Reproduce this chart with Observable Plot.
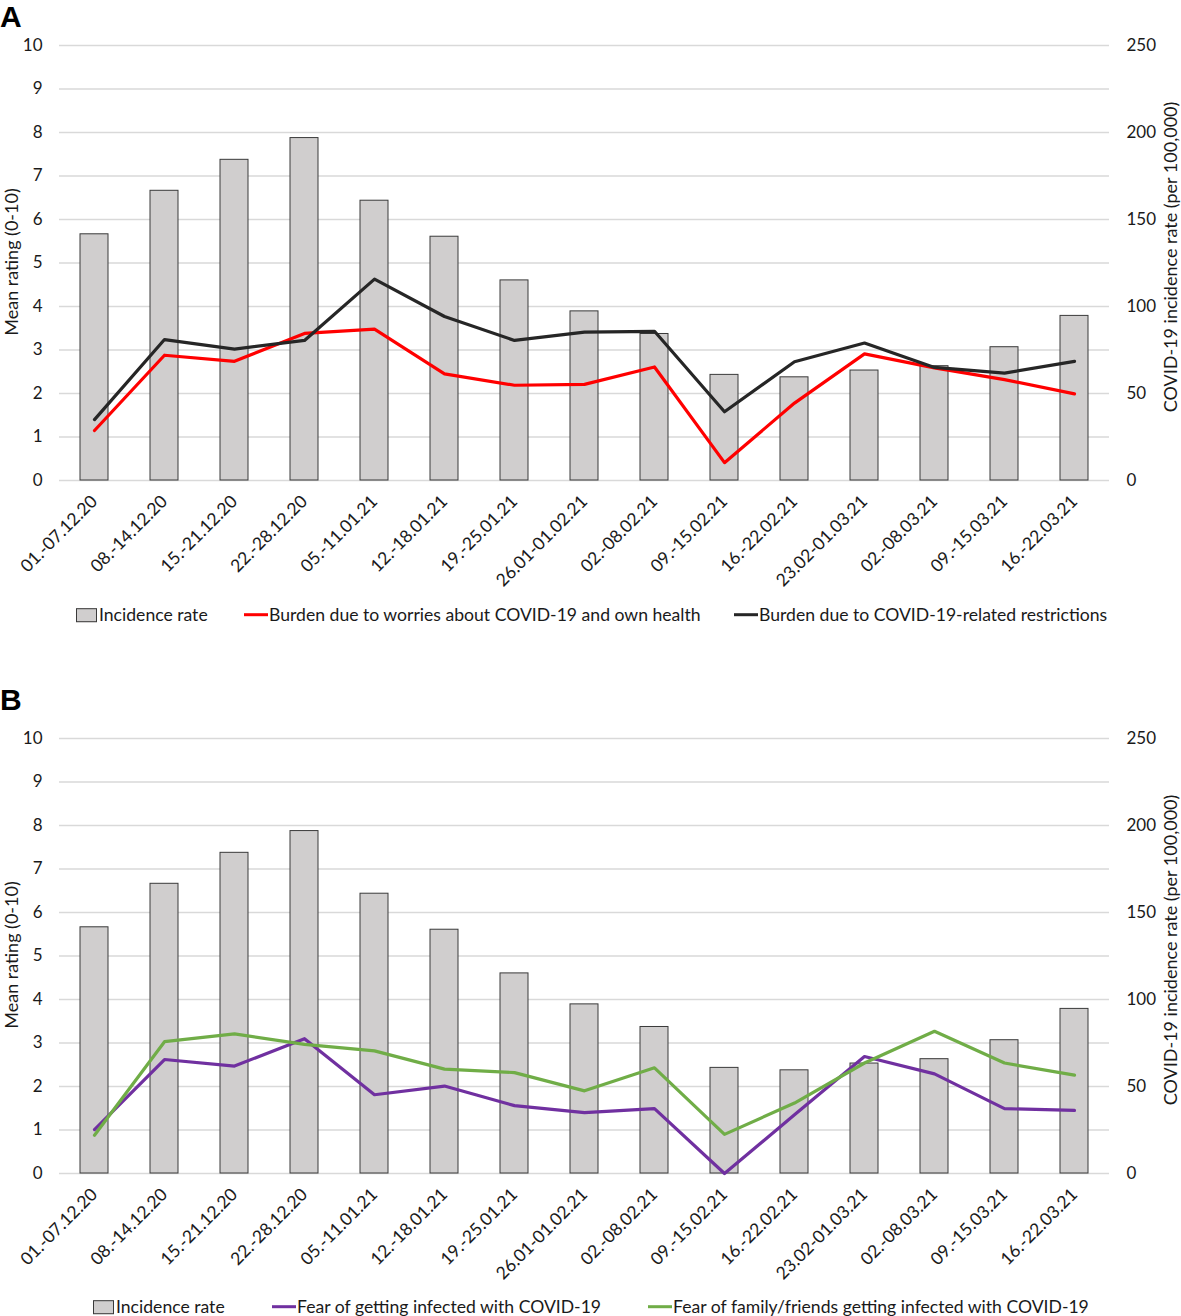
<!DOCTYPE html>
<html>
<head>
<meta charset="utf-8">
<script src="https://cdn.jsdelivr.net/npm/d3@7"></script>
<script src="https://cdn.jsdelivr.net/npm/@observablehq/plot@0.6"></script>
<style>
  body { margin: 0; background: #fff; font-family: Lato, "Open Sans", sans-serif; color: #1a1a1a; }
  #root { position: relative; width: 1181px; height: 1316px; overflow: hidden; background: #fff; }
  .panel { position: absolute; left: 0; width: 1181px; }
  .letter { position: absolute; left: 0; font: bold 30px "Liberation Sans", Arial, sans-serif; line-height: normal; color: #000; }
  .ytitle { position: absolute; font-size: 18px; white-space: nowrap; transform: translate(-50%, -50%) rotate(-90deg); line-height: 1; }
  .leg { position: absolute; display: flex; align-items: center; font-size: 17.6px; white-space: nowrap; line-height: 1; transform: translateY(-50%); }
  .sw { display: inline-block; width: 19px; height: 12px; background: #d0cece; border: 1px solid #3a3a3a; margin-right: 2px; }
  .ln { display: inline-block; width: 24px; height: 3px; margin-right: 1px; }
</style>
</head>
<body>
<div id="root"></div>
<script>
// ---- data ----
const weeks = ["01.-07.12.20","08.-14.12.20","15.-21.12.20","22.-28.12.20","05.-11.01.21","12.-18.01.21","19.-25.01.21","26.01-01.02.21","02.-08.02.21","09.-15.02.21","16.-22.02.21","23.02-01.03.21","02.-08.03.21","09.-15.03.21","16.-22.03.21"];
const incidence = [141.5, 166.5, 184.3, 196.8, 160.8, 140.1, 115.0, 97.2, 84.2, 60.7, 59.3, 63.2, 65.7, 76.6, 94.6];
const burdenWorries = [1.15, 2.88, 2.74, 3.38, 3.48, 2.45, 2.19, 2.21, 2.61, 0.41, 1.78, 2.91, 2.59, 2.32, 1.99];
const burdenRestrictions = [1.40, 3.24, 3.02, 3.22, 4.63, 3.77, 3.22, 3.41, 3.43, 1.58, 2.73, 3.16, 2.60, 2.47, 2.74];
const fearSelf = [1.01, 2.62, 2.47, 3.10, 1.81, 2.01, 1.56, 1.40, 1.49, 0.00, 1.35, 2.69, 2.29, 1.49, 1.45];
const fearFamily = [0.88, 3.03, 3.21, 2.97, 2.82, 2.40, 2.32, 1.90, 2.43, 0.90, 1.62, 2.54, 3.27, 2.54, 2.26];
const ratingTicks = [0,1,2,3,4,5,6,7,8,9,10];
const incidenceTicks = [0,50,100,150,200,250];

const leftTitle = "Mean rating (0-10)";
const rightTitle = "COVID-19 incidence rate (per 100,000)";
const barLabel = "Incidence rate";
const panelA = {letter: "A", s1: {name: "Burden due to worries about COVID-19 and own health", values: burdenWorries, color: "#ff0000"},
                s2: {name: "Burden due to COVID-19-related restrictions", values: burdenRestrictions, color: "#262626"}};
const panelB = {letter: "B", s1: {name: "Fear of getting infected with COVID-19", values: fearSelf, color: "#7030a0"},
                s2: {name: "Fear of family/friends getting infected with COVID-19", values: fearFamily, color: "#70ad47"}};

// incidence (right axis) mapped onto the rating (left axis) scale
const toRating = d3.scaleLinear([0, 250], [0, 10]);

function makePlot(cfg) {
  const bars = weeks.map((w, i) => ({week: w, inc: incidence[i]}));
  const l1 = weeks.map((w, i) => ({week: w, v: cfg.s1.values[i]}));
  const l2 = weeks.map((w, i) => ({week: w, v: cfg.s2.values[i]}));
  return Plot.plot({
    width: 1181, height: 600,
    marginTop: 45, marginBottom: 120, marginLeft: 59, marginRight: 72,
    style: {fontFamily: "Lato, 'Open Sans', sans-serif", fontSize: "17px", color: "#1a1a1a", background: "transparent", overflow: "visible"},
    x: {domain: weeks, paddingInner: 0.6, paddingOuter: 0.3, label: null, axis: null},
    y: {domain: [0, 10], label: null, axis: null},
    marks: [
      Plot.gridY(ratingTicks, {stroke: "#d9d9d9", strokeOpacity: 1, strokeWidth: 1.3}),
      Plot.barY(bars, {x: "week", y: d => toRating(d.inc), fill: "#d0cece", stroke: "#3a3a3a", strokeWidth: 1}),
      Plot.axisY(ratingTicks, {anchor: "left", tickSize: 0, tickPadding: 17, label: null}),
      Plot.axisY(incidenceTicks.map(v => toRating(v)), {anchor: "right", tickSize: 0, tickPadding: 17, label: null,
        tickFormat: d => String(Math.round(toRating.invert(d)))}),
      Plot.axisX({tickRotate: -45, tickSize: 0, tickPadding: 18, label: null, fontSize: 17.5}),
      Plot.lineY(l1, {x: "week", y: "v", stroke: cfg.s1.color, strokeWidth: 3.2, strokeLinejoin: "round"}),
      Plot.lineY(l2, {x: "week", y: "v", stroke: cfg.s2.color, strokeWidth: 3.2, strokeLinejoin: "round"})
    ]
  });
}

const root = document.getElementById("root");

function addPanel(cfg, top, letterTop, legendY, legendX) {
  const div = document.createElement("div");
  div.className = "panel";
  div.style.top = top + "px";
  div.appendChild(makePlot(cfg));
  root.appendChild(div);

  const L = document.createElement("div");
  L.className = "letter";
  L.style.top = letterTop + "px";
  L.textContent = cfg.letter;
  root.appendChild(L);

  const yl = document.createElement("div");
  yl.className = "ytitle";
  yl.style.left = "11px"; yl.style.top = (top + 262) + "px";
  yl.textContent = leftTitle;
  root.appendChild(yl);

  const yr = document.createElement("div");
  yr.className = "ytitle";
  yr.style.left = "1170px"; yr.style.top = (top + 257) + "px";
  yr.textContent = rightTitle;
  root.appendChild(yr);

  const items = [
    {kind: "bar", name: barLabel},
    {kind: "line", name: cfg.s1.name, color: cfg.s1.color},
    {kind: "line", name: cfg.s2.name, color: cfg.s2.color}
  ];
  items.forEach((it, i) => {
    const g = document.createElement("div");
    g.className = "leg";
    g.style.left = legendX[i] + "px";
    g.style.top = legendY + "px";
    const s = document.createElement("span");
    if (it.kind === "bar") { s.className = "sw"; }
    else { s.className = "ln"; s.style.background = it.color; }
    g.appendChild(s);
    const t = document.createElement("span");
    t.textContent = it.name;
    g.appendChild(t);
    root.appendChild(g);
  });
}

addPanel(panelA, 0, 0, 615, [76, 244, 734]);
addPanel(panelB, 693, 683, 1307, [93, 272, 648]);
</script>
</body>
</html>
